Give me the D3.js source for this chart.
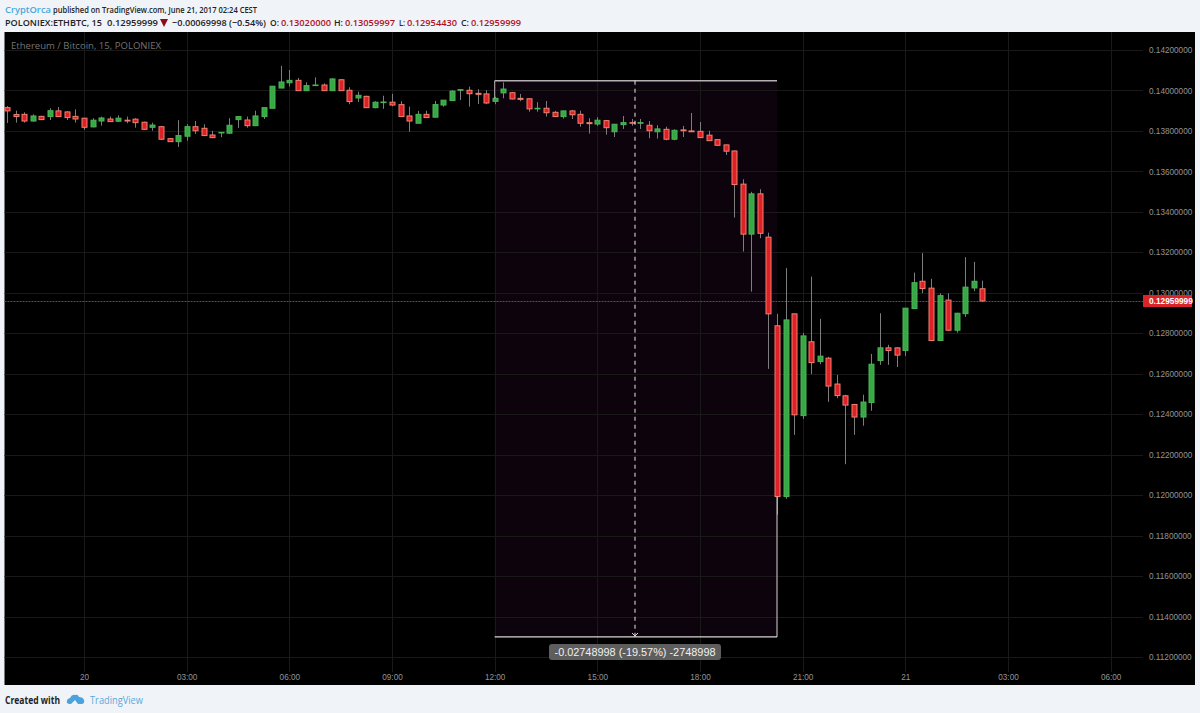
<!DOCTYPE html>
<html><head><meta charset="utf-8">
<script src="https://cdn.jsdelivr.net/npm/d3@7"></script>
<style>html,body{margin:0;padding:0;background:#f0f3f8;overflow:hidden}svg{display:block}</style>
</head><body><svg id="c" width="1200" height="713"></svg>
<script>
const seriesStart = Date.UTC(2017,5,19,21,45);
const candleMinutes = 15;
const opens = [0.13915,0.13881,0.13882,0.13849,0.13872,0.13871,0.13899,0.13894,0.13872,0.13863,
0.13820,0.13849,0.13859,0.13848,0.13853,0.13858,0.13843,0.13818,0.13821,0.13762,
0.13747,0.13774,0.13821,0.13813,0.13780,0.13790,0.13789,0.13856,0.13854,0.13826,
0.13871,0.13912,0.14012,0.14038,0.14050,0.13999,0.14024,0.14027,0.13999,0.14053,
0.14001,0.13963,0.13971,0.13915,0.13940,0.13942,0.13930,0.13874,0.13838,0.13882,
0.13868,0.13928,0.13950,0.14001,0.14001,0.13986,0.13983,0.13946,0.13988,0.13989,
0.13961,0.13959,0.13909,0.13912,0.13892,0.13871,0.13899,0.13882,0.13841,0.13834,
0.13851,0.13796,0.13831,0.13841,0.13838,0.13828,0.13796,0.13808,0.13759,0.13805,
0.13800,0.13798,0.13779,0.13757,0.13731,0.13701,0.13537,0.13290,0.13489,0.13275,
0.12837,0.11993,0.12896,0.12393,0.12758,0.12660,0.12677,0.12549,0.12491,0.12448,
0.12386,0.12458,0.12665,0.12728,0.12728,0.12715,0.12922,0.13057,0.13023,0.12764,
0.12964,0.12815,0.12897,0.13024,0.13020];
const closes = [0.13899,0.13871,0.13849,0.13874,0.13856,0.13900,0.13871,0.13866,0.13859,0.13818,
0.13853,0.13864,0.13846,0.13863,0.13849,0.13841,0.13808,0.13829,0.13759,0.13747,
0.13777,0.13821,0.13801,0.13777,0.13767,0.13793,0.13828,0.13871,0.13826,0.13874,
0.13915,0.14021,0.14042,0.14050,0.13999,0.14024,0.14027,0.13999,0.14057,0.13999,
0.13945,0.13976,0.13915,0.13942,0.13943,0.13928,0.13871,0.13849,0.13882,0.13866,
0.13930,0.13952,0.13997,0.14004,0.13984,0.13981,0.13938,0.13961,0.14007,0.13958,
0.13956,0.13909,0.13912,0.13890,0.13871,0.13899,0.13880,0.13838,0.13836,0.13853,
0.13816,0.13833,0.13841,0.13838,0.13841,0.13801,0.13810,0.13759,0.13803,0.13801,
0.13796,0.13767,0.13752,0.13729,0.13700,0.13535,0.13290,0.13489,0.13294,0.12896,
0.11993,0.12866,0.12397,0.12787,0.12655,0.12687,0.12539,0.12492,0.12445,0.12386,
0.12460,0.12647,0.12728,0.12715,0.12692,0.12924,0.13050,0.13021,0.12764,0.12986,
0.12815,0.12899,0.13028,0.13057,0.12960];
const highs = [0.13923,0.13900,0.13892,0.13882,0.13875,0.13912,0.13918,0.13897,0.13907,0.13864,
0.13863,0.13871,0.13871,0.13877,0.13871,0.13863,0.13846,0.13841,0.13825,0.13764,
0.13853,0.13833,0.13849,0.13833,0.13800,0.13793,0.13863,0.13871,0.13871,0.13900,
0.13915,0.14021,0.14122,0.14101,0.14062,0.14040,0.14065,0.14035,0.14060,0.14057,
0.14016,0.13994,0.13974,0.13947,0.13974,0.13983,0.13947,0.13920,0.13899,0.13900,
0.13948,0.13952,0.14001,0.14007,0.14019,0.14006,0.14002,0.13969,0.14040,0.13991,
0.13983,0.13961,0.13942,0.13948,0.13899,0.13900,0.13904,0.13900,0.13863,0.13868,
0.13854,0.13834,0.13874,0.13859,0.13859,0.13849,0.13829,0.13821,0.13808,0.13825,
0.13889,0.13844,0.13801,0.13759,0.13732,0.13703,0.13561,0.13499,0.13512,0.13297,
0.12896,0.13122,0.12896,0.12802,0.13080,0.12871,0.12683,0.12594,0.12496,0.12451,
0.12496,0.12698,0.12899,0.12743,0.12730,0.12925,0.13100,0.13196,0.13069,0.12998,
0.12998,0.12901,0.13176,0.13153,0.13060];
const lows = [0.13839,0.13841,0.13841,0.13846,0.13853,0.13854,0.13869,0.13854,0.13841,0.13805,
0.13818,0.13826,0.13846,0.13844,0.13838,0.13816,0.13805,0.13801,0.13755,0.13746,
0.13721,0.13752,0.13785,0.13775,0.13764,0.13769,0.13785,0.13815,0.13816,0.13825,
0.13859,0.13912,0.14012,0.14019,0.13999,0.13999,0.14022,0.13999,0.13999,0.13999,
0.13932,0.13943,0.13913,0.13912,0.13909,0.13922,0.13871,0.13796,0.13838,0.13866,
0.13868,0.13920,0.13950,0.13953,0.13920,0.13933,0.13932,0.13932,0.13961,0.13956,
0.13947,0.13895,0.13895,0.13871,0.13871,0.13861,0.13859,0.13821,0.13787,0.13825,
0.13782,0.13770,0.13810,0.13826,0.13810,0.13764,0.13762,0.13754,0.13754,0.13770,
0.13795,0.13767,0.13750,0.13727,0.13681,0.13372,0.13204,0.13006,0.13270,0.12624,
0.11903,0.11982,0.12298,0.12377,0.12598,0.12647,0.12461,0.12479,0.12153,0.12298,
0.12343,0.12417,0.12644,0.12644,0.12633,0.12688,0.12920,0.12998,0.12762,0.12762,
0.12812,0.12803,0.12881,0.13008,0.12954];
const priceTicks = [0.142,0.14,0.138,0.136,0.134,0.132,0.13,0.128,0.126,0.124,0.122,0.12,0.118,0.116,0.114,0.112];
const timeTickLabels = ["20","03:00","06:00","09:00","12:00","15:00","18:00","21:00","21","03:00","06:00"];
const timeTickHours = [0,3,6,9,12,15,18,21,24,27,30];
const lastPrice = 0.12959999;
const measureFrom = {hour:12, price:0.14048};
const measureTo = {hour:20.25, price:0.11299};
const measureLabel = "-0.02748998 (-19.57%) -2748998";

const svg = d3.select("#c");
const day0 = Date.UTC(2017,5,20,0,0);
const H = h => new Date(day0 + h*3600000);
const x = d3.scaleUtc().domain([H(0),H(27)]).range([84,1008]);
const y = d3.scaleLinear().domain([0.112,0.142]).range([657,50]);
const candles = opens.map((o,i)=>({t:new Date(seriesStart+i*candleMinutes*60000),o,c:closes[i],h:highs[i],l:lows[i]}));

const L=4.5,R=1195,T=32,B=685,PA=1143;
const uiFont = "'Open Sans',sans-serif", axFont="'Liberation Sans',Arial,sans-serif";
svg.append("rect").attr("x",L).attr("y",T).attr("width",R-L).attr("height",B-T).attr("fill","#000");

// measure background
const mx0=x(H(measureFrom.hour)), mx1=x(H(measureTo.hour)), my0=y(measureFrom.price), my1=y(measureTo.price);
svg.append("rect").attr("x",mx0).attr("y",my0).attr("width",mx1-mx0).attr("height",my1-my0).attr("fill","#0d030c");

// grid
svg.append("g").selectAll("line").data(priceTicks).join("line")
 .attr("x1",L).attr("x2",PA).attr("y1",d=>Math.round(y(d))+.5).attr("y2",d=>Math.round(y(d))+.5).attr("stroke","#1a1819");
svg.append("g").selectAll("line").data(timeTickHours).join("line")
 .attr("y1",T).attr("y2",672).attr("x1",d=>Math.round(x(H(d)))+.5).attr("x2",d=>Math.round(x(H(d)))+.5).attr("stroke","#1a1819");

// axes
const ya = d3.axisRight(y).tickValues(priceTicks).tickSize(0).tickPadding(0).tickFormat(d=>d.toFixed(8));
const gy = svg.append("g").attr("transform","translate(1149,0)").call(ya);
gy.select(".domain").remove();
gy.selectAll("text").attr("font-family",axFont).attr("font-size",8.2).attr("fill","#949494");
const xa = d3.axisBottom(x).tickValues(timeTickHours.map(H)).tickSize(0).tickPadding(0).tickFormat((d,i)=>timeTickLabels[i]);
const gx = svg.append("g").attr("transform","translate(0,674.5)").call(xa);
gx.select(".domain").remove();
gx.selectAll("text").attr("font-family",axFont).attr("font-size",8.2).attr("fill","#949494");

// title
svg.append("text").attr("x",11).attr("y",49).attr("font-family",uiFont).attr("font-size",9.6).attr("fill","#747474")
 .attr("textLength",150).attr("lengthAdjust","spacingAndGlyphs").text("Ethereum / Bitcoin, 15, POLONIEX");

// last price line
svg.append("line").attr("x1",L).attr("x2",PA).attr("y1",Math.round(y(lastPrice))+.5).attr("y2",Math.round(y(lastPrice))+.5)
 .attr("stroke","#c22222").attr("stroke-dasharray","2 1");

// candles
const bw=5;
const g = svg.append("g").selectAll("g").data(candles).join("g");
g.append("line").attr("x1",d=>Math.round(x(d.t))+.5).attr("x2",d=>Math.round(x(d.t))+.5)
 .attr("y1",d=>y(d.h)).attr("y2",d=>y(d.l)).attr("stroke","#7d7d7d");
g.append("rect").attr("x",d=>Math.round(x(d.t))-2).attr("width",bw)
 .attr("y",d=>y(Math.max(d.o,d.c))).attr("height",d=>Math.max(.5,Math.abs(y(d.o)-y(d.c))))
 .attr("fill",d=>d.c>=d.o?"#38a845":"#df2027")
 .attr("stroke",d=>d.c>=d.o?"#4bb558":"#f0806f").attr("stroke-width",1);

// measure lines
const ml=(a,b,c,d,col,w)=>svg.append("line").attr("x1",a).attr("y1",b).attr("x2",c).attr("y2",d).attr("stroke",col).attr("stroke-width",w||1);
ml(mx0,my0,mx1,my0,"#b5b0b2",1.4);
ml(mx0,my1,mx1,my1,"#d8d5d6",1.2);
ml(mx0,my0,mx0,y(0.1396),"#b5b0b2",1);
ml(mx1,y(0.11993),mx1,my1,"#d8d5d6",1);
const midX=635;
ml(midX,my0,midX,my1,"#e8e8e8",1).attr("stroke-dasharray","4 4");
svg.append("path").attr("d",`M${midX-3},${my1-4} L${midX},${my1-1} L${midX+3},${my1-4}`).attr("fill","none").attr("stroke","#ddd");
svg.append("rect").attr("x",549).attr("y",644).attr("width",172).attr("height",16).attr("rx",3).attr("fill","#5e5e5e");
svg.append("text").attr("x",635).attr("y",655.5).attr("text-anchor","middle").attr("font-family",axFont).attr("font-size",10.8)
 .attr("fill","#f0f0f0").attr("textLength",161).attr("lengthAdjust","spacingAndGlyphs").text(measureLabel);

// last price tag
svg.append("rect").attr("x",1143).attr("y",295).attr("width",49).attr("height",12).attr("fill","#d8242a");
svg.append("text").attr("x",1149).attr("y",304.2).attr("font-family",axFont).attr("font-size",8.3).attr("font-weight","bold")
 .attr("fill","#fff").text(lastPrice.toFixed(8));

// header
const dark="#222",red="#b0101c";
const headerTop=[{t:"CryptOrca",x:5,w:46,c:"#4aa8d8"},{t:"published on TradingView.com, June 21, 2017 02:24 CEST",x:53,w:204,c:dark}];
const headerRow=[
 {t:"POLONIEX:ETHBTC, 15",x:5,w:97,c:dark},{t:"0.12959999",x:107,w:51,c:dark},
 {t:"−0.00069998 (−0.54%)",x:172,w:94,c:dark},{t:"O:",x:270,w:9,c:dark},{t:"0.13020000",x:281,w:50,c:red},
 {t:"H:",x:334,w:9,c:dark},{t:"0.13059997",x:345,w:50,c:red},{t:"L:",x:399,w:6,c:dark},{t:"0.12954430",x:407,w:50,c:red},
 {t:"C:",x:461,w:8,c:dark},{t:"0.12959999",x:471,w:50,c:red}];
const put=(rows,yy)=>svg.append("g").selectAll("text").data(rows).join("text")
 .attr("x",d=>d.x).attr("y",yy).attr("textLength",d=>d.w).attr("lengthAdjust","spacingAndGlyphs")
 .attr("font-family",uiFont).attr("font-size",9.6).attr("font-weight",600).attr("fill",d=>d.c).text(d=>d.t);
put(headerTop,13); put(headerRow,26);
svg.append("path").attr("d","M160,19 L168,19 L164,27 Z").attr("fill","#8e0d14");

// footer
svg.append("text").attr("x",5).attr("y",704).attr("font-family",uiFont).attr("font-size",10.5).attr("font-weight",700).attr("fill","#222")
 .attr("textLength",55).attr("lengthAdjust","spacingAndGlyphs").text("Created with");
svg.append("path").attr("d","M67,703 Q66,699 70,698 Q72,694 75,695 Q78,694 79,697 Q83,697 84,700 Q85,703 82,704 L78,704 L75,700 L71,704 L69,704 Z").attr("fill","#4aa3dc");
svg.append("text").attr("x",90).attr("y",704).attr("font-family",uiFont).attr("font-size",10.5).attr("fill","#5aa9d8")
 .attr("textLength",53).attr("lengthAdjust","spacingAndGlyphs").text("TradingView");
</script></body></html>
